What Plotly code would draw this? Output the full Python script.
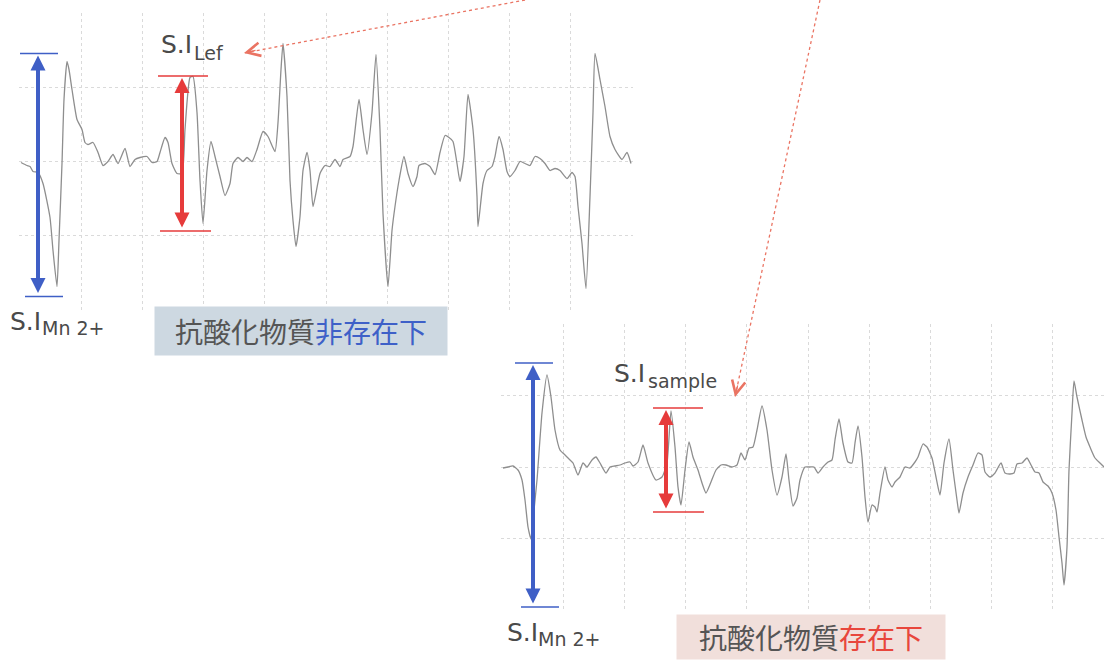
import plotly.graph_objects as go

# ---------------- data ----------------
# Upper spectrum: without antioxidant (field index, signal intensity)
field_ref = [1, 7, 10, 13, 18, 23, 30, 33, 37, 39, 42, 44, 47, 49, 52, 57, 62, 65, 68, 73,
             78, 83, 88, 93, 98, 105, 110, 115, 120, 127, 132, 137, 140, 145, 148, 152, 157, 162, 165, 170,
             173, 177, 180, 183, 187, 191, 195, 200, 205, 210, 213, 218, 223, 227, 232, 237, 243, 248, 255, 258,
             261, 263, 267, 270, 273, 276, 280, 283, 287, 290, 293, 300, 305, 310, 315, 320, 323, 330, 333, 339,
             343, 347, 352, 356, 360, 363, 368, 372, 375, 379, 384, 388, 393, 397, 399, 405, 410, 415, 420, 425,
             429, 433, 437, 440, 444, 448, 453, 457, 458, 463, 467, 472, 475, 479, 483, 487, 490, 495, 500, 505,
             510, 515, 520, 525, 530, 535, 540, 547, 552, 555, 558, 562, 566, 570, 573, 575, 580, 585, 590, 595,
             602, 607, 611]
signal_ref = [-1, -4, -5, -10, -11, -22, -56, -89, -125, -79, -2, 62, 100, 92, 72, 42, 32, 19, 17, 19,
              9, -4, 0, 7, -2, 13, -5, 2, 4, 5, -1, 0, 9, 24, 19, -2, -12, -12, 32, 84,
              85, 49, -19, -62, -9, 20, 5, -15, -34, -22, -2, 4, 0, 4, 0, 12, 30, 25, 10, 39,
              92, 118, 65, -19, -59, -85, -55, -9, 9, -9, -45, -12, -4, -5, 2, -5, 2, 5, 15, 62,
              32, 7, 49, 107, 32, -52, -125, -69, -45, -19, 5, -12, -25, -15, -4, -2, -5, -13, 9, 26,
              24, 20, -2, -20, 5, 67, 32, -35, -65, -22, -9, -5, 5, 25, 12, -10, -15, -9, 0, -2,
              -4, 5, 3, -2, -9, -7, -9, -17, -11, -15, -45, -82, -127, -35, 49, 108, 82, 55, 25, 12,
              2, 9, -2]

# Lower spectrum: with antioxidant
field_smp = [1, 6, 11, 16, 20, 23, 26, 29, 31, 35, 40, 45, 49, 53, 58, 63, 66, 71, 76, 81,
             85, 90, 94, 98, 104, 108, 113, 118, 123, 128, 131, 136, 141, 146, 154, 160, 165, 169, 173, 176,
             179, 183, 187, 191, 196, 200, 204, 209, 214, 219, 224, 230, 235, 239, 243, 247, 251, 255, 260, 265,
             270, 275, 280, 284, 287, 291, 295, 298, 303, 308, 312, 316, 321, 326, 330, 333, 337, 341, 346, 350,
             353, 356, 360, 363, 366, 370, 373, 375, 378, 383, 386, 390, 393, 398, 403, 408, 413, 416, 421, 425,
             430, 434, 438, 442, 447, 451, 455, 457, 461, 466, 471, 476, 480, 483, 488, 493, 499, 503, 508, 512,
             515, 520, 525, 529, 533, 537, 541, 546, 550, 554, 557, 560, 562, 565, 567, 570, 572, 575, 580, 584,
             588, 593, 598, 602]
signal_smp = [-1, 0, 1, -3, -13, -33, -60, -72, -53, -13, 54, 92, 70, 37, 17, 12, 9, 4, -8, 4,
              0, 7, 10, 4, -6, 0, 1, 2, 4, 5, 1, 5, 22, 4, -13, -10, 4, 56, 20, -20,
              -38, -3, 25, 10, -3, -16, -26, -15, -3, 2, 2, 0, 2, 14, 7, 19, 20, 37, 61, 37,
              -3, -28, -10, 13, -13, -39, -31, -13, 0, 0, 0, -6, 0, 5, 7, 27, 48, 24, 5, 4,
              24, 41, 10, -30, -55, -38, -40, -45, -26, 0, -13, -20, -15, -10, 0, -1, 5, 10, 23, 20,
              9, -10, -28, 4, 28, -3, -33, -46, -26, -10, 2, 14, 12, -5, -10, -6, 4, -6, -7, -6,
              3, 4, 9, 2, -5, -6, -15, -19, -26, -43, -70, -96, -118, -80, -3, 54, 86, 70, 47, 30,
              20, 9, 4, 0]

# Markers of signal intensity: (field, top, bottom)
mn_ref = (18, 108, -135)
lef_ref = (162, 85.5, -69.5)
mn_smp = (31, 104, -140)
smp_smp = (164, 59, -45)

label_si = "S.I"
sub_mn = "Mn 2+"
sub_lef = "Lef"
sub_sample = "sample"
box_without = ("抗酸化物質", "非存在下")
box_with = ("抗酸化物質", "存在下")

# ---------------- figure ----------------
W, H = 1104, 663
BLUE = "#3f5fc6"
RED = "#e63b3b"
GRAY_TXT = "#4a4a4a"
DOT_RED = "#ea7463"

fig = go.Figure()
fig.add_trace(go.Scatter(x=field_ref, y=signal_ref, mode="lines", xaxis="x", yaxis="y",
                         line=dict(color="#8e8e8e", width=1.3, shape="spline", smoothing=0.5),
                         hoverinfo="skip", showlegend=False))
fig.add_trace(go.Scatter(x=field_smp, y=signal_smp, mode="lines", xaxis="x2", yaxis="y2",
                         line=dict(color="#8e8e8e", width=1.3, shape="spline", smoothing=0.5),
                         hoverinfo="skip", showlegend=False))

def px2pap(px, py):
    return px / W, 1 - py / H

grid = dict(showgrid=True, gridcolor="#dadada", griddash="dot", gridwidth=1,
            zeroline=False, showticklabels=False, ticks="", showline=False, fixedrange=True)

fig.update_layout(
    width=W, height=H, margin=dict(l=0, r=0, t=0, b=0),
    paper_bgcolor="white", plot_bgcolor="white", showlegend=False,
    xaxis=dict(domain=[19 / W, 633 / W], range=[-1, 613], tick0=0, dtick=61.2, anchor="y", **grid),
    yaxis=dict(domain=[1 - 310 / H, 1 - 13 / H], range=[-148.5, 148.5], tick0=0, dtick=74, anchor="x", **grid),
    xaxis2=dict(domain=[501 / W, 1.0], range=[-1, 602], tick0=0, dtick=61.2, anchor="y2", **grid),
    yaxis2=dict(domain=[1 - 610 / H, 1 - 324 / H], range=[-143, 143], tick0=0, dtick=71.3, anchor="x2", **grid),
)

shapes = []
annotations = []

def double_arrow(xr, yr, spec, color, capl, capr_t, capl_b, capr_b):
    x, top, bot = spec
    annotations.append(dict(xref=xr, yref=yr, axref=xr, ayref=yr, x=x, y=top, ax=x, ay=bot,
                            text="", showarrow=True, arrowside="end+start", arrowhead=2,
                            arrowsize=0.75, arrowwidth=4, arrowcolor=color, standoff=2, startstandoff=2))
    shapes.append(dict(type="line", xref=xr, yref=yr, x0=x - capl, x1=x + capr_t, y0=top, y1=top,
                       line=dict(color=color, width=1.5)))
    shapes.append(dict(type="line", xref=xr, yref=yr, x0=x - capl_b, x1=x + capr_b, y0=bot, y1=bot,
                       line=dict(color=color, width=1.5)))

double_arrow("x", "y", mn_ref, BLUE, 18, 20, 13, 25)
double_arrow("x", "y", lef_ref, RED, 24, 26, 22, 29)
double_arrow("x2", "y2", mn_smp, BLUE, 18, 20, 12, 26)
double_arrow("x2", "y2", smp_smp, RED, 13, 37, 13, 38)

# dotted red pointer lines
def pointer(p0, tip, head_off):
    x0, y0 = px2pap(*p0)
    x1, y1 = px2pap(*tip)
    shapes.append(dict(type="line", xref="paper", yref="paper", x0=x0, y0=y0, x1=x1, y1=y1,
                       line=dict(color=DOT_RED, width=1.3, dash="dot")))
    annotations.append(dict(xref="paper", yref="paper", x=x1, y=y1, ax=head_off[0], ay=head_off[1],
                            text="", showarrow=True, arrowhead=5, arrowsize=2.2, arrowwidth=1.2,
                            arrowcolor=DOT_RED))

pointer((525, 0), (244, 53), (13, -3))
pointer((820, 0), (735, 397), (3, -13))

def si_label(px, py, sub, sub_dx, sub_dy):
    x, y = px2pap(px, py)
    annotations.append(dict(xref="paper", yref="paper", x=x, y=y, xanchor="left", yanchor="middle",
                            text=label_si, showarrow=False,
                            font=dict(family="DejaVu Sans", size=25, color=GRAY_TXT)))
    x2, y2 = px2pap(px + sub_dx, py + sub_dy)
    annotations.append(dict(xref="paper", yref="paper", x=x2, y=y2, xanchor="left", yanchor="middle",
                            text=sub, showarrow=False,
                            font=dict(family="DejaVu Sans", size=19, color=GRAY_TXT)))

si_label(159, 45, sub_lef, 33, 8)
si_label(8, 321, sub_mn, 32, 7)
si_label(612, 373, sub_sample, 34, 8)
si_label(505, 632, sub_mn, 31, 7)

def jp_box(cx, cy, w, h, parts, accent, bg):
    x, y = px2pap(cx, cy)
    annotations.append(dict(xref="paper", yref="paper", x=x, y=y, xanchor="center", yanchor="middle",
                            text=f"{parts[0]}<span style='color:{accent}'>{parts[1]}</span>",
                            showarrow=False, width=w, height=h, bgcolor=bg, borderpad=0,
                            align="center", valign="middle",
                            font=dict(family="Noto Sans CJK JP", size=28, color="#555555")))

jp_box(301, 331, 292, 48, box_without, "#3e60c8", "#cdd8e1")
jp_box(811, 637, 268, 44, box_with, "#e8463c", "#f1dfdb")

fig.update_layout(shapes=shapes, annotations=annotations)
fig.write_html("out.html", config={"displayModeBar": False},
               post_script="document.body.style.margin='0';document.body.style.padding='0';"
                           "document.body.style.overflow='hidden';")
